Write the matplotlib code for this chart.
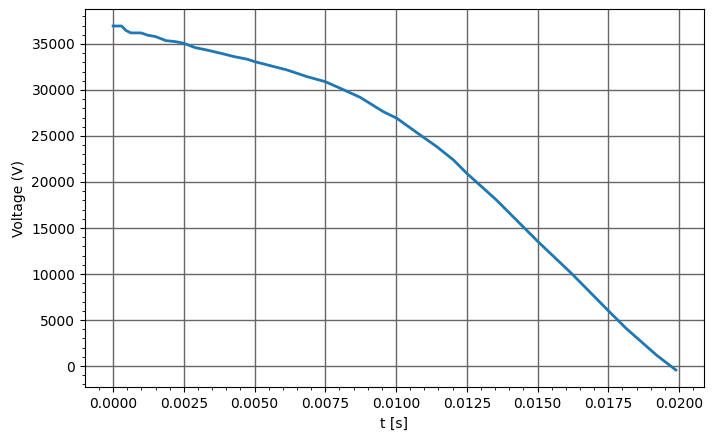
import matplotlib
matplotlib.use("Agg")
import matplotlib.pyplot as plt

t = [0.0, 0.0003, 0.00046, 0.00063, 0.00099, 0.00122, 0.0015, 0.00187, 0.0022,
     0.0025, 0.0029, 0.0033, 0.0038, 0.00427, 0.00474, 0.005, 0.00568, 0.00615,
     0.00685, 0.0075, 0.00803, 0.00873, 0.00955, 0.01003, 0.01085, 0.01144,
     0.01203, 0.0125, 0.01296, 0.01355, 0.01449, 0.01502, 0.0162, 0.01754,
     0.01813, 0.0192, 0.01989]
voltage = [36950, 36950, 36450, 36200, 36200, 35950, 35800, 35360, 35250,
           35070, 34600, 34350, 33990, 33630, 33340, 33080, 32540, 32170,
           31450, 30900, 30180, 29200, 27640, 26920, 25110, 23840,
           22390, 20940, 19670, 18040, 15140, 13510, 10070, 5900,
           4100, 1200, -430]

fig, ax = plt.subplots(figsize=(7.14, 4.4), dpi=100)
fig.subplots_adjust(left=0.119, right=0.986, bottom=0.12, top=0.98)

ax.plot(t, voltage, color="#1f77b4", linewidth=2)
ax.minorticks_on()
ax.grid(which="major", color="#666666", linewidth=1)
ax.set_xlabel("t [s]")
ax.set_ylabel("Voltage (V)")

fig.savefig("out.png", dpi=100)
plt.close(fig)
